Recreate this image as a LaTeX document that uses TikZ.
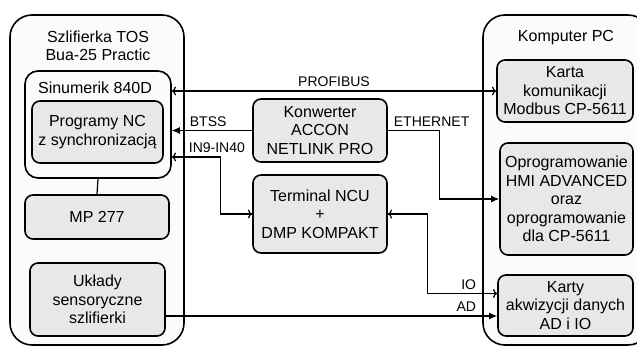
\documentclass[tikz,border=0pt]{standalone}
\usepackage{fontspec}
\setmainfont{Liberation Sans}
\usetikzlibrary{arrows.meta}
\definecolor{BoxGray}{RGB}{232,232,232}
\definecolor{FrameWhite}{RGB}{251,251,251}
\begin{document}
\begin{tikzpicture}[x=1pt,y=-1pt,
  frame/.style n args={2}{draw,line width=1.6pt,fill=FrameWhite,rounded corners=22pt,minimum width=#1pt,minimum height=#2pt,inner sep=0pt},
  sub/.style n args={2}{draw,line width=1.6pt,fill=FrameWhite,rounded corners=13pt,minimum width=#1pt,minimum height=#2pt,inner sep=0pt},
  blk/.style n args={2}{draw,line width=1.6pt,fill=BoxGray,rounded corners=8pt,minimum width=#1pt,minimum height=#2pt,inner sep=0pt,align=center,font=\fontsize{16}{18.5}\selectfont},
  ttl/.style={align=center,font=\fontsize{16}{18.5}\selectfont},
  conn/.style={line width=1.2pt,arrows={-Latex[length=8pt,width=7pt]}},
  lbl/.style={font=\fontsize{14}{16}\selectfont,inner sep=3.5pt}]
\useasboundingbox (0,0) rectangle (637,347);
% main frames
\node[frame={174}{330}](szl) at(97,180) {};
\node[frame={167}{330}](pc) at(566.5,180) {};
\node[ttl] (szlT) at(98,46) {Szlifierka TOS\\Bua-25 Practic};
\node[ttl] (pcT) at(566,38) {Komputer PC};
% Sinumerik
\node[sub={146}{107}](sin) at(98,124.5) {};
\node[ttl] (sinT) at(95,88) {Sinumerik 840D};
\node[blk={131}{62}](nc) at(97.5,132) {Programy NC\\z synchronizacją};
\node[blk={144}{44}](mp) at(97,217) {MP 277};
\node[blk={135}{73}](ukl) at(97.5,299.5) {Układy\\sensoryczne\\szlifierki};
% middle
\node[blk={134}{63}](konw) at(320,130.5) {Konwerter\\ACCON\\NETLINK PRO};
\node[blk={134}{78}](term) at(320,214) {Terminal NCU\\+\\DMP KOMPAKT};
% PC side
\node[blk={136}{62}](karta) at(565,91) {Karta\\komunikacji\\Modbus CP-5611};
\node[blk={133}{112}](opr) at(566.5,199) {Oprogramowanie\\HMI ADVANCED\\oraz\\oprogramowanie\\dla CP-5611};
\node[blk={135}{61}](akw) at(565.5,305.5) {Karty\\akwizycji danych\\AD i IO};
% connections
\draw[line width=1.2pt] (sin.south) -- (mp.north);
\draw[conn,<->] (karta.west -| sin.east) -- node[lbl,above,pos=0.5]{PROFIBUS} (karta.west);
\draw[conn] (konw.west) -- (konw.west -| sin.east) node[lbl,above right,xshift=14pt]{BTSS};
\draw[conn,<->] ([yshift=-32.5pt]sin.east) node[lbl,above right,xshift=13pt]{IN9-IN40} -- ++(49,0) |- (term.west);
\draw[conn] (konw.east) node[lbl,above right,xshift=2pt]{ETHERNET} -- ++(52,0) |- (opr.west);
\draw[conn,<->] (term.east) -- ++(40,0) |- ([yshift=12pt]akw.west) node[lbl,above left,xshift=-17pt]{IO};
\draw[conn] ([yshift=-16.5pt]ukl.east) coordinate (ad) -- (ad -| akw.west) node[lbl,above left,xshift=-17pt]{AD};
\end{tikzpicture}
\end{document}
